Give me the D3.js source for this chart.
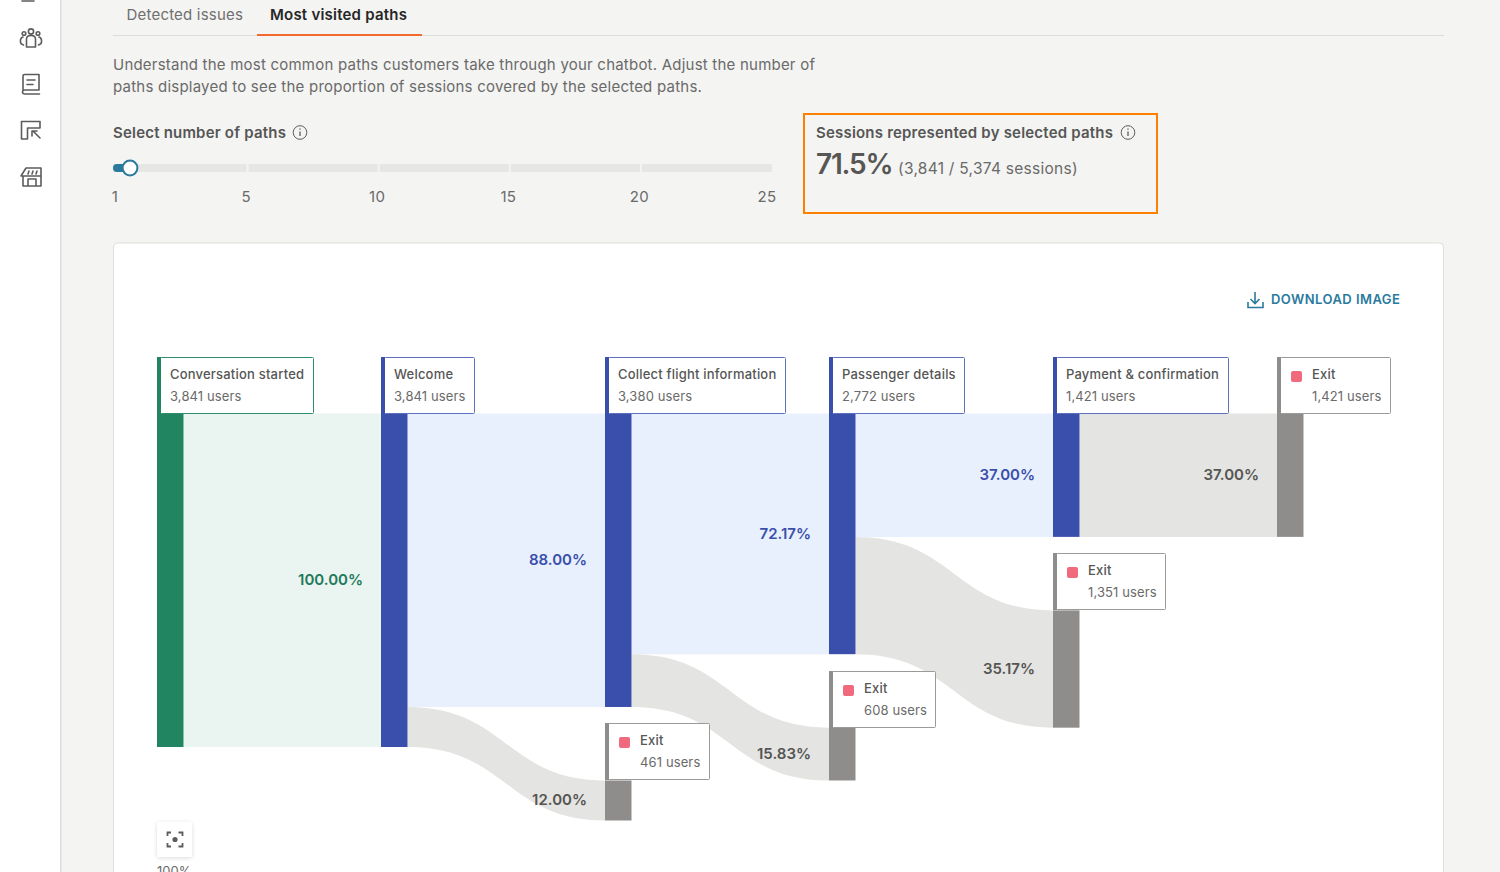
<!DOCTYPE html>
<html><head><meta charset="utf-8">
<script src="https://cdn.jsdelivr.net/npm/d3@7"></script>
<style>
html,body{margin:0;padding:0;background:#f4f4f3;overflow:hidden}
svg{display:block}
text{font-family:Inter,"Noto Sans",sans-serif}
</style></head><body>
<svg id="c" width="1500" height="872"></svg>
<script>
// ---- data ----
const nodeNames = ["Conversation started","Welcome","Collect flight information","Exit","Passenger details","Exit","Payment & confirmation","Exit","Exit"];
const nodeUsers = [3841,3841,3380,461,2772,608,1421,1351,1421];
const nodeColumns = [0,1,2,2,3,3,4,4,5];
const nodeKinds = ["start","step","step","exit","step","exit","step","exit","exit"];
const linkSources = [0,1,1,2,2,4,4,6];
const linkTargets = [1,2,3,4,5,6,7,8];
const linkPercents = [100,88,12,72.17,15.83,37,35.17,37];
const sliderTicks = [1,5,10,15,20,25];
const selectedPaths = 1;
const tabLabels = ["Detected issues","Most visited paths"];
const introLines = ["Understand the most common paths customers take through your chatbot. Adjust the number of","paths displayed to see the proportion of sessions covered by the selected paths."];

// ---- style ----
const nodeFill = {start:"#208560",step:"#3a4fab",exit:"#8e8d8b"};
const linkFill = {start:"#eaf4f0",step:"#e8effd",exit:"#e4e4e2"};
const pctFill  = {start:"#1f7a5c",step:"#3a4fab",exit:"#555553"};
const boxStroke= {start:"#2f8f6c",step:"#5f70bd",exit:"#9a9a98"};
const teal="#2a7a9e", txt="#565655", sub="#6a6a69";

const svg=d3.select("#c");
const fmt=d3.format(",");

// ---- page chrome ----
svg.append("rect").attr("width",60).attr("height",872).attr("fill","#fff");
svg.append("rect").attr("x",60).attr("width",1.5).attr("height",872).attr("fill","#dcdcda");

// sidebar icons
const ic=svg.append("g").attr("fill","none").attr("stroke","#5c5c5b").attr("stroke-width",1.6).attr("stroke-linejoin","round").attr("stroke-linecap","round");
ic.append("path").attr("d","M22 1 H34");
// people
ic.append("circle").attr("cx",31).attr("cy",31.5).attr("r",2.6);
ic.append("path").attr("d","M26.5 47 V39 Q26.5 35.5 31 35.5 Q35.5 35.5 35.5 39 V47 Z");
ic.append("circle").attr("cx",24).attr("cy",33.5).attr("r",1.8);
ic.append("circle").attr("cx",38).attr("cy",33.5).attr("r",1.8);
ic.append("path").attr("d","M23 37 Q20 38 20.5 42 Q20.5 44 23.5 45 M39 37 Q42 38 41.5 42 Q41.5 44 38.5 45");
// book
ic.append("path").attr("d","M23 90 V76 Q23 74.5 24.5 74.5 H39 V90 H25 Q22.5 90 22.5 92 Q22.5 94 25 94 H39.5");
ic.append("path").attr("d","M27 80 H35 M27 84.5 H33");
// map cursor
ic.append("path").attr("d","M21.5 139 V121.5 H40 V128 H27.5 V139 Z");
ic.append("path").attr("d","M33 131 L40 138 M32 136 V131 H37");
// store
ic.append("path").attr("d","M23 176 V186 H41 V176 M21 176 L26 168 H41 V176 Z M28 186 V179 H36 V186");
ic.append("path").attr("d","M29 171 L28 174 M33 171 L32 174 M37 171 L36 174");

// tabs
svg.append("text").attr("x",126.5).attr("y",19.5).attr("font-size",15).attr("letter-spacing",0.2).attr("fill","#6f6f6e").text(tabLabels[0]);
svg.append("text").attr("x",270).attr("y",19.5).attr("font-size",15).attr("font-weight",600).attr("letter-spacing",0.22).attr("fill","#262626").text(tabLabels[1]);
svg.append("rect").attr("x",113).attr("y",35).attr("width",1331).attr("height",1).attr("fill","#dcdcda");
svg.append("rect").attr("x",257).attr("y",34).attr("width",165).attr("height",2).attr("fill","#f26a2e");

// intro
svg.selectAll(".intro").data(introLines).join("text").attr("class","intro")
  .attr("x",113).attr("y",(d,i)=>70+i*22).attr("font-size",15).attr("letter-spacing",0.22).attr("fill",sub).text(d=>d);

function info(cx,cy){
  const g=svg.append("g").attr("fill","none").attr("stroke","#5c5c5b").attr("stroke-width",1);
  g.append("circle").attr("cx",cx).attr("cy",cy).attr("r",6.8);
  g.append("path").attr("d",`M${cx} ${cy-1} V${cy+3.5}`).attr("stroke-width",1.3);
  g.append("path").attr("d",`M${cx} ${cy-4} V${cy-2.8}`).attr("stroke-width",1.3);
}
svg.append("text").attr("x",113).attr("y",138).attr("font-size",15).attr("font-weight",600).attr("letter-spacing",0.2).attr("fill",txt).text("Select number of paths");
info(300,132.5);

// slider
const sliderX=d3.scalePoint().domain(sliderTicks).range([115,770.5]);
const tick0=sliderTicks.slice(0,-1);
svg.selectAll(".seg").data(tick0).join("rect").attr("class","seg")
  .attr("x",(d,i)=>i===0?113:sliderX(d)+2.5)
  .attr("y",164).attr("height",8)
  .attr("width",(d,i)=>sliderX(sliderTicks[i+1])+(i===4?1.5:0.5)-(i===0?113:sliderX(d)+2.5))
  .attr("fill","#e6e6e4");
svg.append("rect").attr("x",113).attr("y",164).attr("width",17).attr("height",8).attr("rx",4).attr("fill",teal);
svg.append("circle").attr("cx",sliderX(selectedPaths)+15).attr("cy",168).attr("r",7.4).attr("fill","#fff").attr("stroke",teal).attr("stroke-width",2);
svg.selectAll(".tk").data(sliderTicks).join("text").attr("class","tk")
  .attr("x",(d,i)=>sliderX(d)-(i===5?3.5:0)).attr("y",202).attr("text-anchor","middle").attr("font-size",15).attr("letter-spacing",0.3).attr("fill",sub).text(d=>d);

// KPI box
svg.append("rect").attr("x",804).attr("y",114).attr("width",353).attr("height",99).attr("fill","none").attr("stroke","#ff8000").attr("stroke-width",2);
svg.append("text").attr("x",816).attr("y",138).attr("font-size",15).attr("font-weight",600).attr("letter-spacing",0.2).attr("fill",txt).text("Sessions represented by selected paths");
info(1128,132.5);
svg.append("text").attr("x",816).attr("y",174).attr("font-size",28).attr("font-weight",600).attr("letter-spacing",-1.2).attr("fill",txt).text("71.5%");
svg.append("text").attr("x",898).attr("y",173.5).attr("font-size",15.5).attr("letter-spacing",0.27).attr("fill",sub).text("(3,841 / 5,374 sessions)");

// card
svg.append("rect").attr("x",113.5).attr("y",243).attr("width",1330).attr("height",660).attr("rx",4).attr("fill","#fff").attr("stroke","#dfdfdd");

// download
const dl=svg.append("g").attr("fill","none").attr("stroke",teal).attr("stroke-width",1.6);
dl.append("path").attr("d","M1255 292 V303 M1250.5 299 L1255 303.5 L1259.5 299");
dl.append("path").attr("d","M1248 302 V307.5 H1263 V302");
svg.append("text").attr("x",1271).attr("y",303.5).attr("font-size",13).attr("font-weight",600).attr("letter-spacing",0.45).attr("fill",teal).text("DOWNLOAD IMAGE");

// ---- sankey ----
const nodeW=26.5, gap=73.5;
const x=d3.scaleLinear().domain([0,5]).range([157,1277]);
const h=d3.scaleLinear().domain([0,d3.max(nodeUsers)]).range([0,333.5]);
const top0=413.5;
const nodes=nodeNames.map((name,i)=>({name,users:nodeUsers[i],col:nodeColumns[i],kind:nodeKinds[i],out:0}));
d3.groups(nodes,d=>d.col).forEach(([c,list])=>{
  let y=top0;
  list.forEach(n=>{n.y0=y;n.y1=y+h(n.users);n.x0=x(c);n.x1=n.x0+nodeW;y=n.y1+gap;});
});
const links=linkSources.map((s,i)=>{
  const S=nodes[s],T=nodes[linkTargets[i]],w=h(T.users);
  const sy=S.y0+S.out; S.out+=w;
  return {S,T,w,sy,pct:linkPercents[i],kind:s===0?"start":(T.kind==="exit"?"exit":"step")};
});
const band=d3.area().curve(d3.curveBumpX).x(d=>d.x).y0(d=>d.y0).y1(d=>d.y1);
svg.append("g").selectAll("path").data(links).join("path")
  .attr("d",l=>band([{x:l.S.x1,y0:l.sy,y1:l.sy+l.w},{x:l.T.x0,y0:l.T.y0,y1:l.T.y1}]))
  .attr("fill",l=>linkFill[l.kind]);
svg.append("g").selectAll("rect").data(nodes).join("rect")
  .attr("x",n=>n.x0).attr("y",n=>n.y0).attr("width",nodeW).attr("height",n=>n.y1-n.y0).attr("fill",n=>nodeFill[n.kind]);
svg.append("g").selectAll("text").data(links).join("text")
  .attr("x",l=>l.T.x0-18).attr("y",l=>(l.T.y0+l.T.y1)/2+5)
  .attr("text-anchor","end").attr("font-size",15).attr("font-weight",600).attr("fill",l=>pctFill[l.kind])
  .text(l=>l.pct.toFixed(2)+"%");

// node labels
const lab=svg.append("g").selectAll("g").data(nodes).join("g").attr("transform",n=>`translate(${n.x0},${Math.round(n.y0)-57})`);
lab.each(function(n){
  const g=d3.select(this), tx=n.kind==="exit"?35:13;
  const b=g.append("rect").attr("x",3.5).attr("y",0.5).attr("height",56).attr("rx",1).attr("fill","#fff").attr("stroke",boxStroke[n.kind]);
  g.append("rect").attr("x",0).attr("y",0).attr("width",4).attr("height",57).attr("fill",nodeFill[n.kind]);
  if(n.kind==="exit") g.append("rect").attr("x",14).attr("y",14).attr("width",11).attr("height",11).attr("rx",2).attr("fill","#f1697c");
  const t1=g.append("text").attr("x",tx).attr("y",21.5).attr("font-size",13).attr("font-weight",500).attr("letter-spacing",0.2).attr("fill",txt).text(n.name);
  const t2=g.append("text").attr("x",tx).attr("y",43.5).attr("font-size",13).attr("letter-spacing",0.12).attr("fill",sub).text(fmt(n.users)+" users");
  const w=Math.max(t1.node().getComputedTextLength(),t2.node().getComputedTextLength());
  b.attr("width",Math.round(tx+w+9-3.5));
});

// focus control
const defs=svg.append("defs");
const f=defs.append("filter").attr("id","sh").attr("x","-30%").attr("y","-30%").attr("width","160%").attr("height","160%");
f.append("feDropShadow").attr("dx",0).attr("dy",1).attr("stdDeviation",2).attr("flood-color","#000").attr("flood-opacity",0.14);
svg.append("rect").attr("x",157).attr("y",822).attr("width",35).attr("height",35).attr("rx",2).attr("fill","#fff").attr("filter","url(#sh)");
const fo=svg.append("g").attr("fill","none").attr("stroke","#5c5c5b").attr("stroke-width",1.8);
fo.append("path").attr("d","M167.5 836 V832.5 H171 M178.5 832.5 H182.5 V836 M182.5 843 V846.5 H178.5 M171 846.5 H167.5 V843");
svg.append("circle").attr("cx",175).attr("cy",839.5).attr("r",2.6).attr("fill","#5c5c5b");
svg.append("text").attr("x",157).attr("y",876).attr("font-size",13).attr("fill",sub).text("100%");
</script>
</body></html>
